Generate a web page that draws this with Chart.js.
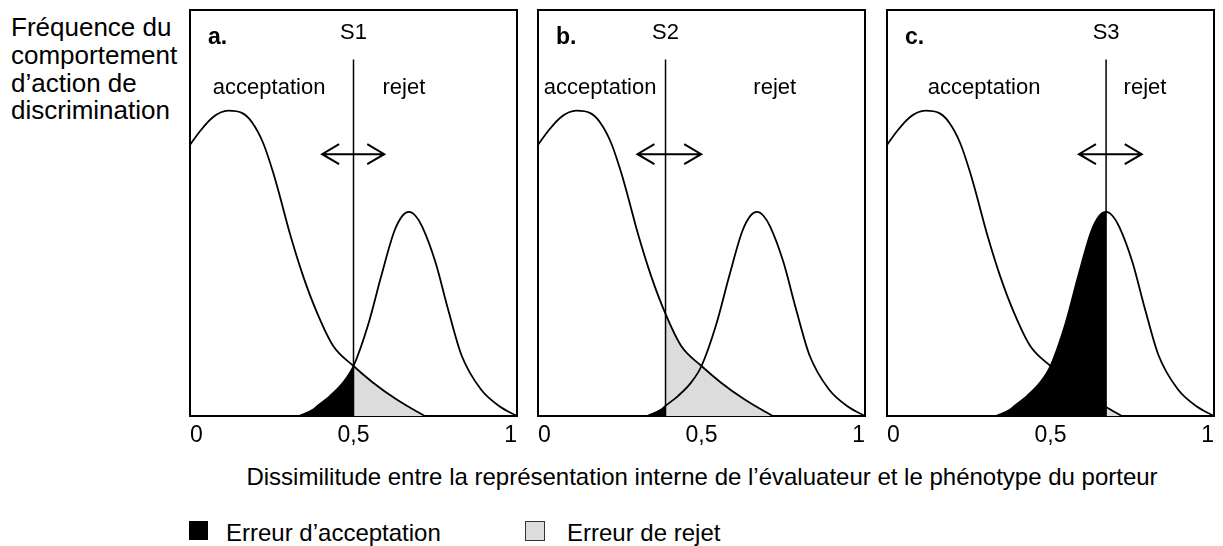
<!DOCTYPE html>
<html lang="fr">
<head>
<meta charset="utf-8">
<title>Seuil d'acceptation et erreurs de discrimination</title>
<script src="https://cdn.jsdelivr.net/npm/chart.js@4.4.1/dist/chart.umd.min.js"></script>
<style>
  html, body { margin: 0; background: #fff; }
  body { width: 1223px; height: 546px; position: relative; overflow: hidden;
         font-family: "Liberation Sans", Arial, sans-serif; color: #000; }
  canvas.pan { position: absolute; top: 0; }
  #ytitle { position: absolute; left: 11px; top: 14px; font-size: 26px; line-height: 27.8px; }
  #xtitle { position: absolute; left: 190px; width: 1024px; top: 465px; text-align: center;
            font-size: 24px; line-height: 24px; white-space: nowrap; }
  .sw { position: absolute; top: 521px; width: 19px; height: 19px; box-sizing: border-box; }
  .lg { position: absolute; top: 521px; font-size: 24px; line-height: 24px; white-space: nowrap; }
</style>
</head>
<body>
<div id="ytitle">Fréquence du<br>comportement<br>d’action de<br>discrimination</div>
<canvas class="pan" id="pa" width="367" height="460" style="left:170px"></canvas>
<canvas class="pan" id="pb" width="367" height="460" style="left:518px"></canvas>
<canvas class="pan" id="pc" width="367" height="460" style="left:867px"></canvas>
<div id="xtitle">Dissimilitude entre la représentation interne de l’évaluateur et le phénotype du porteur</div>
<span class="sw" style="left:189px;background:#000"></span><span class="lg" style="left:226px">Erreur d’acceptation</span>
<span class="sw" style="left:525px;width:20px;height:20px;background:#dcdcdc;border:1px solid #333"></span><span class="lg" style="left:567px">Erreur de rejet</span>
<script>
// ── données ──
const X_TICKS = [0, 0.5, 1];
const PANELS = ['a.', 'b.', 'c.'];
const SEUILS = ['S1', 'S2', 'S3'];
const THRESHOLDS = [0.5, 0.39, 0.67];
// courbe "acceptation" (identique dans les 3 panneaux)
const ACC_X = [0, 0.03, 0.07, 0.117, 0.16, 0.19, 0.224, 0.255, 0.275, 0.305, 0.346, 0.39, 0.438, 0.5, 0.56, 0.631, 0.67, 0.718];
const ACC_Y = [0.667, 0.700, 0.735, 0.751, 0.745, 0.722, 0.671, 0.597, 0.540, 0.450, 0.344, 0.251, 0.172, 0.123, 0.082, 0.041, 0.022, 0];
// courbe "rejet"
const REJ_X = [0.334, 0.377, 0.39, 0.428, 0.468, 0.5, 0.545, 0.585, 0.625, 0.65, 0.67, 0.69, 0.71, 0.75, 0.79, 0.83, 0.89, 0.95, 1];
const REJ_Y = [0, 0.016, 0.025, 0.049, 0.082, 0.123, 0.225, 0.345, 0.455, 0.493, 0.502, 0.492, 0.466, 0.38, 0.26, 0.15, 0.065, 0.022, 0];

// ── mise en page (hors données) ──
const LAYOUT = [
  {id: 'pa', acc: 0.242, rej: 0.654, arrow: [-0.096, 0.094]},
  {id: 'pb', acc: 0.19, rej: 0.724, arrow: [-0.086, 0.109]},
  {id: 'pc', acc: 0.297, rej: 0.789, arrow: [-0.083, 0.109]},
];
const THR_TOP = 0.877, ARROW_Y = 0.644;
const FONT = '"Liberation Sans", Arial, sans-serif';

Chart.defaults.font.family = FONT;
Chart.defaults.color = '#000';

const pts = (xs, ys) => xs.map((v, i) => ({x: v, y: ys[i]}));
const ACC = pts(ACC_X, ACC_Y), REJ = pts(REJ_X, REJ_Y);

// étiquettes, seuil et flèche double
const annot = {
  id: 'annot',
  afterDatasetsDraw(chart, args, o) {
    const {ctx, chartArea: a, scales: {x, y}} = chart;
    const t = x.getPixelForValue(o.thr);
    ctx.save();
    ctx.fillStyle = '#000'; ctx.strokeStyle = '#000';
    ctx.font = `bold 23px ${FONT}`; ctx.textAlign = 'left';
    ctx.fillText(o.tag, a.left + 18, a.top + 34);
    ctx.font = `22px ${FONT}`; ctx.textAlign = 'center';
    ctx.fillText(o.name, t, a.top + 29);
    ctx.fillText('acceptation', x.getPixelForValue(o.acc), a.top + 84);
    ctx.fillText('rejet', x.getPixelForValue(o.rej), a.top + 84);
    const ya = y.getPixelForValue(ARROW_Y);
    const x1 = x.getPixelForValue(o.thr + o.arrow[0]), x2 = x.getPixelForValue(o.thr + o.arrow[1]);
    ctx.lineWidth = 2;
    ctx.beginPath();
    ctx.moveTo(x1, ya); ctx.lineTo(x2, ya);
    ctx.moveTo(x1 + 17, ya - 10); ctx.lineTo(x1, ya); ctx.lineTo(x1 + 17, ya + 10);
    ctx.moveTo(x2 - 17, ya - 10); ctx.lineTo(x2, ya); ctx.lineTo(x2 - 17, ya + 10);
    ctx.stroke();
    ctx.restore();
  }
};

function datasets(thr) {
  const c = {borderColor: '#000', borderWidth: 1.8, pointRadius: 0, cubicInterpolationMode: 'monotone', fill: false};
  return [
    {...c, data: [{x: thr, y: 0}, {x: thr, y: THR_TOP}], borderWidth: 1.5, cubicInterpolationMode: 'default', tension: 0, order: 0},
    {...c, data: REJ, order: 1},
    {...c, data: REJ.filter(p => p.x <= thr), borderWidth: 0, backgroundColor: '#000', fill: 'origin', order: 2},
    {...c, data: ACC, order: 3},
    {...c, data: ACC.filter(p => p.x >= thr), borderWidth: 0, backgroundColor: '#dcdcdc', fill: 'origin', order: 4},
  ];
}

const edge = pos => ({type: 'linear', position: pos, min: 0, max: 1,
  grid: {display: false, drawTicks: false}, ticks: {display: false},
  border: {display: true, color: '#000', width: 2}});

LAYOUT.forEach((L, i) => {
  const thr = THRESHOLDS[i];
  new Chart(document.getElementById(L.id), {
    type: 'line',
    data: {datasets: datasets(thr)},
    options: {
      responsive: false, animation: false, events: [],
      layout: {padding: {left: 20, right: 20, top: 9.5, bottom: 0}},
      plugins: {legend: {display: false}, tooltip: {enabled: false},
        annot: {thr, tag: PANELS[i], name: SEUILS[i], acc: L.acc, rej: L.rej, arrow: L.arrow}},
      scales: {
        x: {type: 'linear', min: 0, max: 1,
          afterBuildTicks: s => { s.ticks = X_TICKS.map(v => ({value: v})); },
          afterFit: s => { s.height = 44; },
          grid: {display: false, drawTicks: false},
          border: {display: true, color: '#000', width: 2},
          ticks: {align: 'inner', padding: 6, autoSkip: false, maxRotation: 0,
            font: {size: 23}, color: '#000', callback: v => String(v).replace('.', ',')}},
        x2: edge('top'),
        y: {...edge('left')},
        y2: edge('right'),
      }
    },
    plugins: [annot]
  });
});
</script>
</body>
</html>
